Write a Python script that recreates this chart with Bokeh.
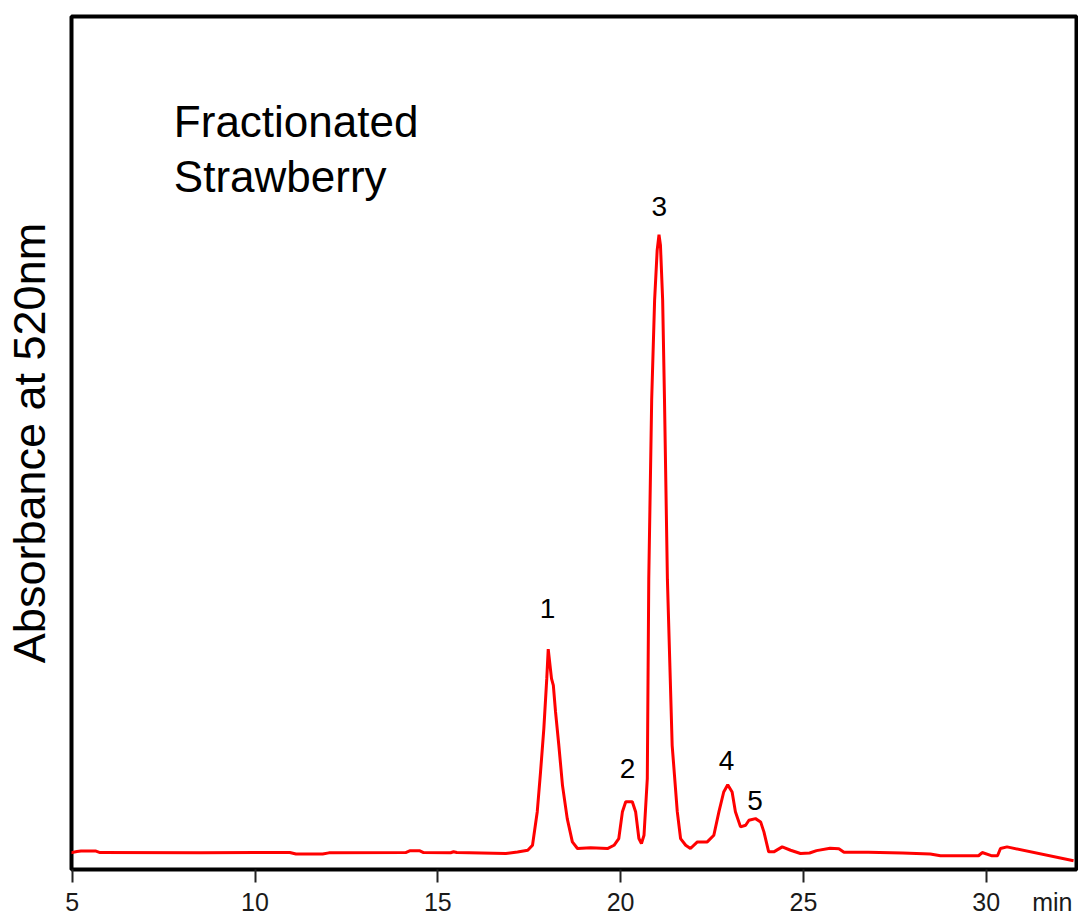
from bokeh.plotting import figure
from bokeh.models import (Range1d, FixedTicker, Label, LinearAxis,
                          CustomLabelingPolicy)
from bokeh.embed import file_html
from bokeh.resources import INLINE

# Retention time (min) and absorbance (relative units, peak 3 = 100)
time_min = [4.94, 5.13, 5.24, 5.65, 5.76, 8.52, 10.95, 11.12, 11.85, 12.02,
            14.12, 14.23, 14.51, 14.61, 15.35, 15.43, 15.52, 16.86, 17.18, 17.46,
            17.59, 17.72, 17.81, 17.90, 17.98, 18.02, 18.07, 18.11, 18.16, 18.22,
            18.31, 18.41, 18.54, 18.68, 18.82, 19.18, 19.64, 19.82, 19.95, 20.05,
            20.14, 20.32, 20.41, 20.50, 20.57, 20.64, 20.73, 20.77, 20.85, 20.93,
            21.00, 21.05, 21.09, 21.15, 21.20, 21.28, 21.41, 21.55, 21.64, 21.78,
            21.91, 22.10, 22.37, 22.55, 22.69, 22.82, 22.93, 23.05, 23.14, 23.28,
            23.42, 23.51, 23.69, 23.83, 23.92, 24.05, 24.19, 24.42, 24.65, 24.92,
            25.17, 25.36, 25.73, 25.97, 26.11, 26.77, 27.71, 28.47, 28.75, 29.79,
            29.89, 30.16, 30.31, 30.39, 30.57, 32.39]
absorbance = [-0.08, 0.16, 0.24, 0.24, 0.0, -0.03, 0.0, -0.24, -0.24, -0.05,
              0.0, 0.28, 0.28, 0.0, -0.03, 0.13, 0.0, -0.16, 0.08, 0.37,
              1.18, 6.63, 13.1, 20.1, 28.2, 33.0, 30.3, 28.2, 27.1, 22.8,
              17.4, 10.9, 5.5, 1.73, 0.65, 0.76, 0.65, 1.18, 2.27, 6.63,
              8.25, 8.25, 6.63, 2.27, 1.46, 2.80, 12.0, 44.3, 73.5, 89.6,
              97.7, 100.2, 98.5, 89.6, 73.5, 44.3, 17.4, 6.63, 2.27, 1.18,
              0.65, 1.73, 1.73, 2.80, 6.63, 9.82, 11.0, 9.82, 6.63, 4.16,
              4.42, 5.23, 5.50, 4.97, 3.35, 0.11, 0.11, 0.92, 0.37, -0.16,
              -0.08, 0.31, 0.70, 0.60, 0.03, 0.03, -0.08, -0.24, -0.52, -0.52,
              0.0, -0.53, -0.53, 0.65, 0.92, -1.34]

peak_labels = ["1", "2", "3", "4", "5"]
peak_x = [18.00, 20.19, 21.06, 22.90, 23.68]
peak_y = [39.6, 13.6, 104.8, 15.0, 8.5]

x_ticks = [5, 10, 15, 20, 25, 30]
unit_label = "min"
unit_x = 31.81

FONT = "Liberation Sans"

p = figure(width=1078, height=918,
           x_range=Range1d(4.98, 32.47), y_range=Range1d(-2.75, 135.6),
           output_backend="svg", toolbar_location=None,
           min_border_left=70, min_border_right=2, min_border_top=16,
           min_border_bottom=47, background_fill_color="white",
           border_fill_color="white", x_axis_location=None)

p.xgrid.visible = False
p.ygrid.visible = False
p.outline_line_color = "black"
p.outline_line_width = 4

p.line(time_min, absorbance, line_color="#ff0000", line_width=3)

# x axis: tick marks only (closest to the frame), no labels drawn
tick_axis = LinearAxis(ticker=FixedTicker(ticks=x_ticks))
tick_axis.minor_tick_line_color = None
tick_axis.major_tick_in = 0
tick_axis.major_tick_out = 13
tick_axis.major_tick_line_width = 2
tick_axis.major_tick_line_color = "#222222"
tick_axis.axis_line_color = None
tick_axis.major_label_text_font_size = "0px"
tick_axis.major_label_standoff = 0
tick_axis.major_label_policy = CustomLabelingPolicy(code="return new Set()")
p.add_layout(tick_axis, "below")

# x axis: tick labels plus the unit label "min"
label_axis = LinearAxis(ticker=FixedTicker(ticks=x_ticks + [unit_x]))
label_axis.major_label_overrides = {unit_x: unit_label}
label_axis.minor_tick_line_color = None
label_axis.major_tick_line_color = None
label_axis.major_tick_in = 0
label_axis.major_tick_out = 0
label_axis.axis_line_color = None
label_axis.major_label_text_font = FONT
label_axis.major_label_text_font_size = "25px"
label_axis.major_label_text_color = "#1a1a1a"
label_axis.major_label_standoff = 5
p.add_layout(label_axis, "below")

# y axis
ya = p.yaxis[0]
ya.ticker = FixedTicker(ticks=[])
ya.minor_tick_line_color = None
ya.major_tick_in = 0
ya.major_tick_out = 0
ya.major_label_standoff = 0
ya.axis_line_color = None
ya.axis_label = "Absorbance at 520nm"
ya.axis_label_text_font = FONT
ya.axis_label_text_font_size = "45px"
ya.axis_label_text_font_style = "normal"
ya.axis_label_text_color = "black"
ya.axis_label_standoff = 17

# peak labels
for t, x, y in zip(peak_labels, peak_x, peak_y):
    p.add_layout(Label(x=x, y=y, text=t, text_align="center",
                       text_baseline="alphabetic", text_font=FONT,
                       text_font_size="28px", text_color="black"))

# title text inside plot
p.add_layout(Label(x=7.78, y=118.5, text="Fractionated", text_font=FONT,
                   text_font_size="44px", text_baseline="alphabetic",
                   text_color="black"))
p.add_layout(Label(x=7.78, y=109.7, text="Strawberry", text_font=FONT,
                   text_font_size="44px", text_baseline="alphabetic",
                   text_color="black"))

open("out.html", "w").write(file_html(p, INLINE))
